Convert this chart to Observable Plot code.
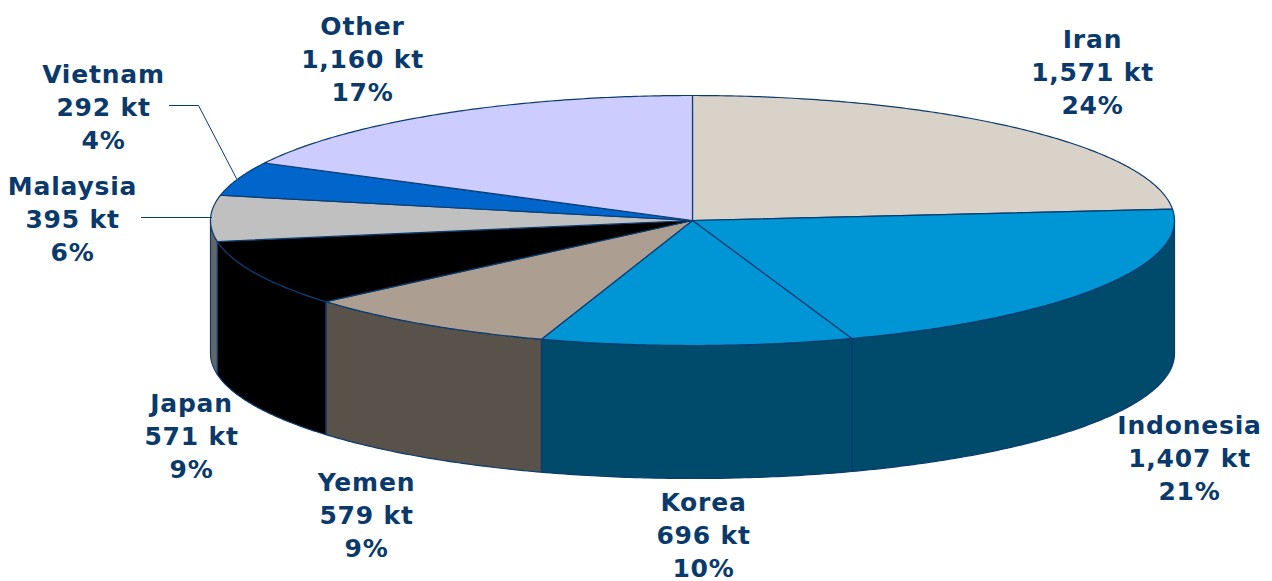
<!DOCTYPE html>
<html>
<head>
<meta charset="utf-8">
<script src="https://cdn.jsdelivr.net/npm/d3@7"></script>
<script src="https://cdn.jsdelivr.net/npm/@observablehq/plot@0.6"></script>
<style>html,body{margin:0;padding:0;background:#fff}svg{display:block}</style>
</head>
<body>
<div id="chart"></div>
<script>
const countries = ["Iran","Indonesia","Korea","Yemen","Japan","Malaysia","Vietnam","Other"];
const tonnage = [1571,1407,696,579,571,395,292,1160];
const topColors = ["#d9d2c8","#0096d6","#0096d6","#ac9f91","#000000","#c0c0c0","#0066cc","#ccccff"];
const wallColors = ["#a39e96","#004a6b","#004a6b","#58524b","#000000","#666666","#004d99","#9999bf"];

// pie geometry
const cx = 692, cy = 220, rx = 482, ry = 125, depth = 133;
const edge = "#0b3b6f";
const total = d3.sum(tonnage);
const pt = (a, dz = 0) => ({x: cx + rx * Math.sin(a), y: cy - ry * Math.cos(a) + dz});

let acc = 0;
const slices = tonnage.map((v, i) => {
  const a0 = acc / total * 2 * Math.PI;
  acc += v;
  return {i, a0, a1: acc / total * 2 * Math.PI};
});
function arc(a0, a1, dz) {
  const n = Math.max(2, Math.ceil((a1 - a0) / 0.01));
  return d3.range(n + 1).map(k => pt(a0 + (a1 - a0) * k / n, dz));
}
const poly = (points, fill) => Plot.line(points, {
  x: "x", y: "y", curve: "linear-closed", fill, stroke: edge, strokeWidth: 1.2, strokeLinejoin: "round"
});

// visible side walls: front half of the ellipse
const walls = slices.flatMap(s => {
  const a0 = Math.max(s.a0, Math.PI / 2), a1 = Math.min(s.a1, 3 * Math.PI / 2);
  if (a1 <= a0) return [];
  return [poly([...arc(a0, a1, 0), ...arc(a0, a1, depth).reverse()], wallColors[s.i])];
});
const tops = slices.map(s => poly([{x: cx, y: cy}, ...arc(s.a0, s.a1, 0)], topColors[s.i]));

// label layout
const labelAt = [[1092,70],[1189,456],[703,533],[366,513],[191,434],[72,217],[103,105],[362,57]];
const labels = countries.map((c, i) => ({
  x: labelAt[i][0], y: labelAt[i][1],
  t: `${c}\n${d3.format(",")(tonnage[i])} kt\n${Math.round(tonnage[i] / total * 100)}%`
}));
const leaderVietnam = [{x:169,y:105},{x:198,y:105},{x:236,y:178}];
const leaderMalaysia = [{x:141,y:217},{x:211,y:217}];
const leader = d => Plot.line(d, {x:"x", y:"y", stroke: edge, strokeWidth: 1});

const chart = Plot.plot({
  width: 1272, height: 581,
  margin: 0,
  x: {domain: [0, 1272], range: [0, 1272], axis: null},
  y: {domain: [0, 581], range: [0, 581], axis: null},
  style: {background: "#fff", letterSpacing: "0.8px"},
  marks: [
    ...walls,
    ...tops,
    leader(leaderVietnam),
    leader(leaderMalaysia),
    Plot.text(labels, {
      x: "x", y: "y", text: "t", lineAnchor: "middle", textAnchor: "middle", lineHeight: 1.32,
      fontFamily: "DejaVu Sans", fontWeight: "bold", fontSize: 25, fill: "#0a3a6b"
    })
  ]
});
document.getElementById("chart").append(chart);
</script>
</body>
</html>
